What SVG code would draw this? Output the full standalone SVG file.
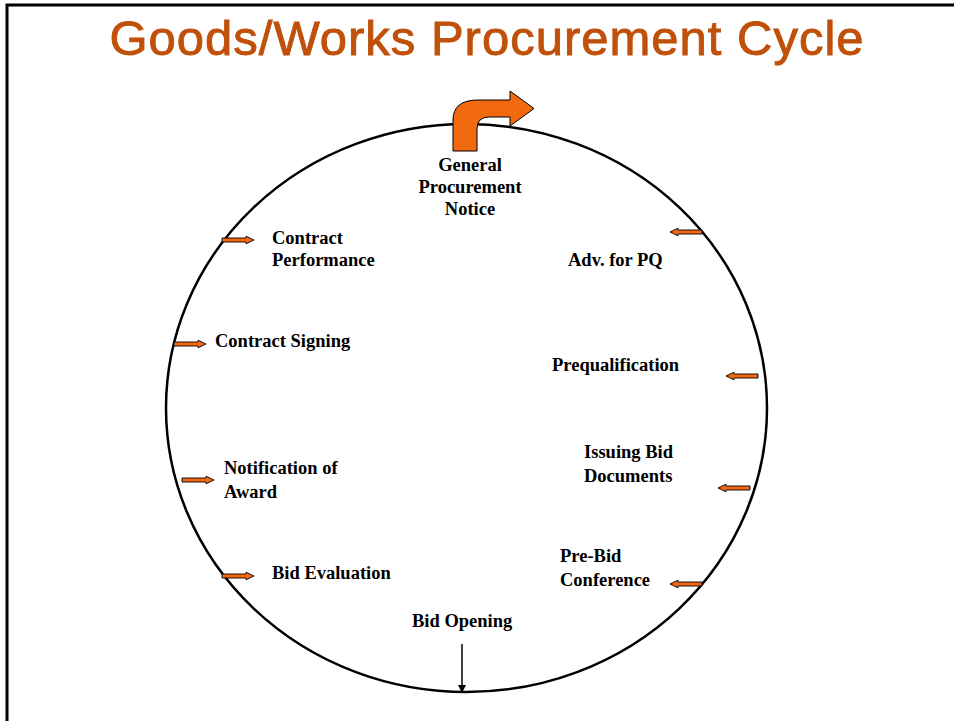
<svg xmlns="http://www.w3.org/2000/svg" width="954" height="721" viewBox="0 0 954 721">
<style>
.lbl{font-family:"Liberation Serif","Times New Roman",serif;font-weight:bold;font-size:18.5px;fill:#000}
.title{font-family:"Liberation Sans",Arial,sans-serif;font-size:49px;fill:#C0500A;stroke:#C0500A;stroke-width:0.9px;letter-spacing:1px}
.sa{fill:#F26A10;stroke:#000;stroke-width:0.9}
</style>
<defs>
<polygon id="rarr" class="sa" points="0,-2 24,-2 24,-3.8 32,0 24,3.8 24,2 0,2"/>
<marker id="blk" markerWidth="8" markerHeight="8" refX="7" refY="4" orient="auto" markerUnits="userSpaceOnUse">
<path d="M0,0 L8,4 L0,8 Z" fill="#000"/>
</marker>
</defs>
<rect x="0" y="0" width="954" height="721" fill="#fff"/>
<path d="M7,721 L7,5 L954,5" fill="none" stroke="#000" stroke-width="3"/>
<text class="title" x="487" y="55" text-anchor="middle">Goods/Works Procurement Cycle</text>
<ellipse cx="466.5" cy="408" rx="300.5" ry="284" fill="none" stroke="#000" stroke-width="2.5"/>
<g id="connectors">
<use href="#rarr" transform="translate(222,240)"/>
<use href="#rarr" transform="translate(174,344)"/>
<use href="#rarr" transform="translate(182,480)"/>
<use href="#rarr" transform="translate(222,576)"/>
<use href="#rarr" transform="translate(702,232) scale(-1,1)"/>
<use href="#rarr" transform="translate(758,376) scale(-1,1)"/>
<use href="#rarr" transform="translate(750,488) scale(-1,1)"/>
<use href="#rarr" transform="translate(702,584) scale(-1,1)"/>
<line x1="462" y1="644" x2="462" y2="692" stroke="#000" stroke-width="1.5" marker-end="url(#blk)"/>
<path d="M453,151 L453,120 Q453,100 478,100 L510,100 L510,91 L534,108.5 L510,126 L510,117 L489,117 Q477,117 477,129 L477,151 Z" fill="#F26A10" stroke="#000" stroke-width="1"/>
</g>
<g id="n-gpn"><text class="lbl" text-anchor="middle" x="470" y="171">General</text><text class="lbl" text-anchor="middle" x="470" y="193">Procurement</text><text class="lbl" text-anchor="middle" x="470" y="215">Notice</text></g>
<g id="n-adv"><text class="lbl" x="568" y="266">Adv. for PQ</text></g>
<g id="n-pq"><text class="lbl" x="552" y="371">Prequalification</text></g>
<g id="n-ibd"><text class="lbl" x="584" y="458">Issuing Bid</text><text class="lbl" x="584" y="482">Documents</text></g>
<g id="n-pbc"><text class="lbl" x="560" y="562">Pre-Bid</text><text class="lbl" x="560" y="586">Conference</text></g>
<g id="n-bo"><text class="lbl" x="412" y="627">Bid Opening</text></g>
<g id="n-be"><text class="lbl" x="272" y="579">Bid Evaluation</text></g>
<g id="n-noa"><text class="lbl" x="224" y="474">Notification of</text><text class="lbl" x="224" y="498">Award</text></g>
<g id="n-cs"><text class="lbl" x="215" y="347">Contract Signing</text></g>
<g id="n-cp"><text class="lbl" x="272" y="244">Contract</text><text class="lbl" x="272" y="266">Performance</text></g>
</svg>
